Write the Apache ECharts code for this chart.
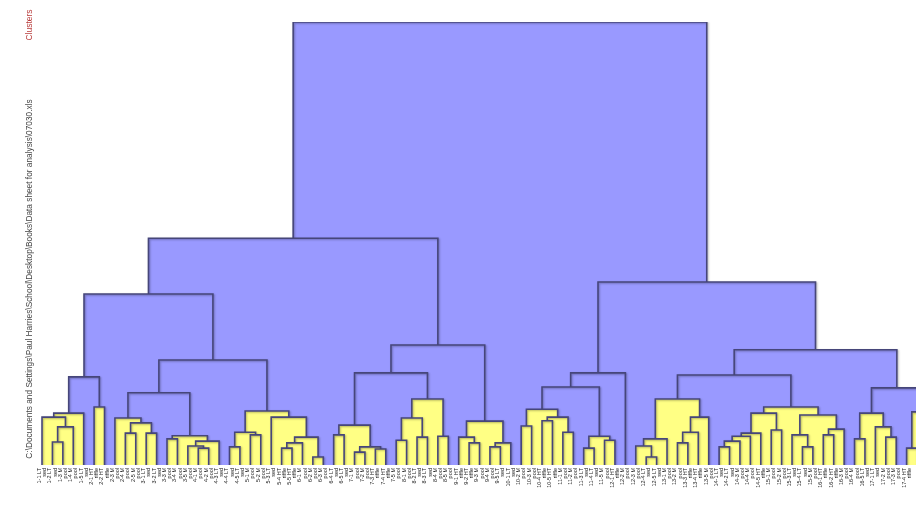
<!DOCTYPE html>
<html>
<head>
<meta charset="utf-8">
<script src="https://cdn.jsdelivr.net/npm/echarts@6/dist/echarts.min.js"></script>
<style>
  html, body { margin: 0; padding: 0; background: #ffffff; }
  #chart { width: 916px; height: 513px; }
</style>
</head>
<body>
<div id="chart"></div>
<script>
// Case labels in tree order, left to right (site code, sample)
const leafLabels = [
  '1-1 LT', '1-2 LT', '1-3 M', '1-4 M', '1-5 LT', '2-1 HT', '2-2 HT', '2-3 M', '2-4 M', '2-5 M',
  '3-1 LT', '3-2 LT', '3-3 M', '3-4 M', '3-5 M', '4-1 M', '4-2 M', '4-3 LT', '4-4 LT', '4-5 LT',
  '5-1 M', '5-2 M', '5-3 LT', '5-4 HT', '5-5 HT', '6-1 M', '6-2 M', '6-3 M', '6-4 LT', '6-5 LT',
  '7-1 M', '7-2 M', '7-3 HT', '7-4 HT', '7-5 M', '8-1 M', '8-2 LT', '8-3 LT', '8-4 M', '8-5 M',
  '9-1 HT', '9-2 HT', '9-3 M', '9-4 M', '9-5 LT', '10-1 LT', '10-2 M', '10-3 M', '10-4 HT', '10-5 HT',
  '11-1 M', '11-2 M', '11-3 LT', '11-4 LT', '11-5 M', '12-1 HT', '12-2 M', '12-3 M', '12-4 LT', '12-5 LT',
  '13-1 M', '13-2 M', '13-3 HT', '13-4 HT', '13-5 M', '14-1 LT', '14-2 LT', '14-3 M', '14-4 M', '14-5 HT',
  '15-1 M', '15-2 M', '15-3 LT', '15-4 LT', '15-5 M', '16-1 HT', '16-2 HT', '16-3 M', '16-4 M', '16-5 LT',
  '17-1 LT', '17-2 M', '17-3 M', '17-4 HT', '17-5 HT', '18-1 M', '18-2 M'
];
const leafSites = [
  'sed', 'sed', 'pool', 'pool', 'sed', 'riffle', 'riffle', 'pool', 'pool', 'pool',
  'sed', 'sed', 'pool', 'pool', 'pool', 'pool', 'pool', 'sed', 'sed', 'sed',
  'pool', 'pool', 'sed', 'riffle', 'riffle', 'pool', 'pool', 'pool', 'sed', 'sed',
  'pool', 'pool', 'riffle', 'riffle', 'pool', 'pool', 'sed', 'sed', 'pool', 'pool',
  'riffle', 'riffle', 'pool', 'pool', 'sed', 'sed', 'pool', 'pool', 'riffle', 'riffle',
  'pool', 'pool', 'sed', 'sed', 'pool', 'riffle', 'pool', 'pool', 'sed', 'sed',
  'pool', 'pool', 'riffle', 'riffle', 'pool', 'sed', 'sed', 'pool', 'pool', 'riffle',
  'pool', 'pool', 'sed', 'sed', 'pool', 'riffle', 'riffle', 'pool', 'pool', 'sed',
  'sed', 'pool', 'pool', 'riffle', 'riffle', 'pool', 'pool'
];

// Fusion level below which a cluster is shown in yellow
const cutLevel = 15.5;

// Clusters under the cut: [fusion level, left, right]; plain numbers are leaf indices
const c1  = [11.7, [10.8, 0, [8.6, [5.2, 1, 2], 3]], 4];
const c2  = [13.1, 5, 6];
const c3  = [10.6, 7, [9.5, [7.2, 8, 9], [7.2, 10, 11]]];
const c4  = [6.6, [5.9, 12, 13], [5.4, [4.3, 14, [3.8, 15, 16]], 17]];
const c5  = [12.2, [7.4, [4.1, 18, 19], [6.8, 20, 21]], [10.8, 22, [6.3, [5.0, [3.8, 23, 24], 25], [1.8, 26, 27]]]];
const c6  = [9.0, [6.8, 28, 29], [4.1, [2.9, 30, 31], [3.6, 32, 33]]];
const c7  = [14.9, [10.6, [5.6, 34, 35], [6.3, 36, 37]], [6.5, 38, 39]];
const c8  = [9.9, [6.3, 40, [5.0, 41, 42]], [5.0, [4.1, 43, 44], 45]];
const c9  = [12.6, [8.8, 46, 47], [10.8, [10.0, 48, 49], [7.4, 50, 51]]];
const c10 = [6.5, [3.8, 52, 53], [5.6, 54, 55]];
const c11 = [14.9, [5.9, [4.3, 57, [1.8, 58, 59]], 60], [10.8, [7.4, [5.0, 61, 62], 63], 64]];
const c12 = [13.1,
  [11.7, [7.2, [6.5, [5.4, [4.1, 65, 66], 67], 68], 69], [7.9, 70, 71]],
  [11.3, [6.8, 72, [4.1, 73, 74]], [8.1, [6.8, 75, 76], 77]]];
const c13 = [11.7, [5.9, 78, 79], [8.6, 80, [6.3, 81, 82]]];
const c14 = [12.0, [3.8, 83, 84], [9.0, 85, 86]];

// Upper levels of the tree
const leftBranch  = [51.2,
  [38.6, [19.9, c1, c2], [23.7, [16.3, c3, c4], c5]],
  [27.1, [20.8, c6, c7], c8]];
const rightBranch = [41.3,
  [20.8, [17.6, c9, c10], 56],
  [26.0, [20.3, c11, c12], [17.4, c13, c14]]];
const rootLevel = 100;

const BLUE = '#9999ff';
const YELLOW = '#ffff84';
const EDGE = '#46467a';

// Walk the tree: every fusion gives one box spanning its two children
const boxes = [];
function walk(node) {
  if (typeof node === 'number') return { x: node, h: 0 };
  const a = walk(node[1]);
  const b = walk(node[2]);
  boxes.push([a.x, b.x, node[0], a.h, b.h, node[0] > cutLevel ? 1 : 0]);
  return { x: (a.x + b.x) / 2, h: node[0] };
}
walk([rootLevel, leftBranch, rightBranch]);
// taller boxes first so lower clusters are painted on top
boxes.sort((p, q) => q[2] - p[2]);

const chart = echarts.init(document.getElementById('chart'), null, { renderer: 'canvas' });
chart.setOption({
  animation: false,
  backgroundColor: '#ffffff',
  grid: { left: 31.6, right: 0, top: 22, bottom: 48 },
  xAxis: {
    type: 'value', min: -1, max: 83.9, interval: 1,
    axisLine: { show: false }, axisTick: { show: false }, splitLine: { show: false },
    axisLabel: {
      rotate: 90, fontSize: 5.5, lineHeight: 5.2, color: '#1a1a1a', margin: 3,
      fontFamily: 'Liberation Sans',
      showMaxLabel: false, showMinLabel: false,
      formatter: v => (Number.isInteger(v) && leafLabels[v]) ? leafLabels[v] + '\n' + leafSites[v] : ''
    }
  },
  yAxis: { type: 'value', min: 0, max: rootLevel, show: false },
  series: [{
    type: 'custom',
    clip: true,
    data: boxes,
    encode: { x: [0, 1], y: 2 },
    renderItem(params, api) {
      const x1 = api.value(0), x2 = api.value(1), h = api.value(2);
      const pL = api.coord([x1, h]);
      const pR = api.coord([x2, h]);
      const base = api.coord([x1, 0])[1];
      const yl = api.coord([x1, api.value(3)])[1];
      const yr = api.coord([x2, api.value(4)])[1];
      return {
        type: 'group',
        children: [
          { type: 'rect', shape: { x: pL[0], y: pL[1], width: pR[0] - pL[0], height: base - pL[1] },
            style: { fill: api.value(5) ? BLUE : YELLOW } },
          { type: 'polyline', shape: { points: [[pL[0], yl], [pL[0], pL[1]], [pR[0], pR[1]], [pR[0], yr]] },
            style: { stroke: EDGE, lineWidth: 1.6, fill: null,
                     shadowBlur: 2, shadowColor: 'rgba(0,0,0,0.3)', shadowOffsetX: 1, shadowOffsetY: 1 } }
        ]
      };
    }
  }],
  graphic: [
    { type: 'text', x: 30, y: 25, rotation: Math.PI / 2,
      style: { text: 'Clusters', fill: '#b83a3a', fontSize: 8.5, fontFamily: 'Liberation Sans',
               textAlign: 'center', textVerticalAlign: 'middle' } },
    { type: 'text', x: 30, y: 279, rotation: Math.PI / 2,
      style: { text: 'C:\\Documents and Settings\\Paul Harries\\School\\Desktop\\Books\\Data sheet for analysis\\07030.xls',
               fill: '#444', fontSize: 8.3, fontFamily: 'Liberation Sans',
               textAlign: 'center', textVerticalAlign: 'middle' } }
  ]
});
</script>
</body>
</html>
